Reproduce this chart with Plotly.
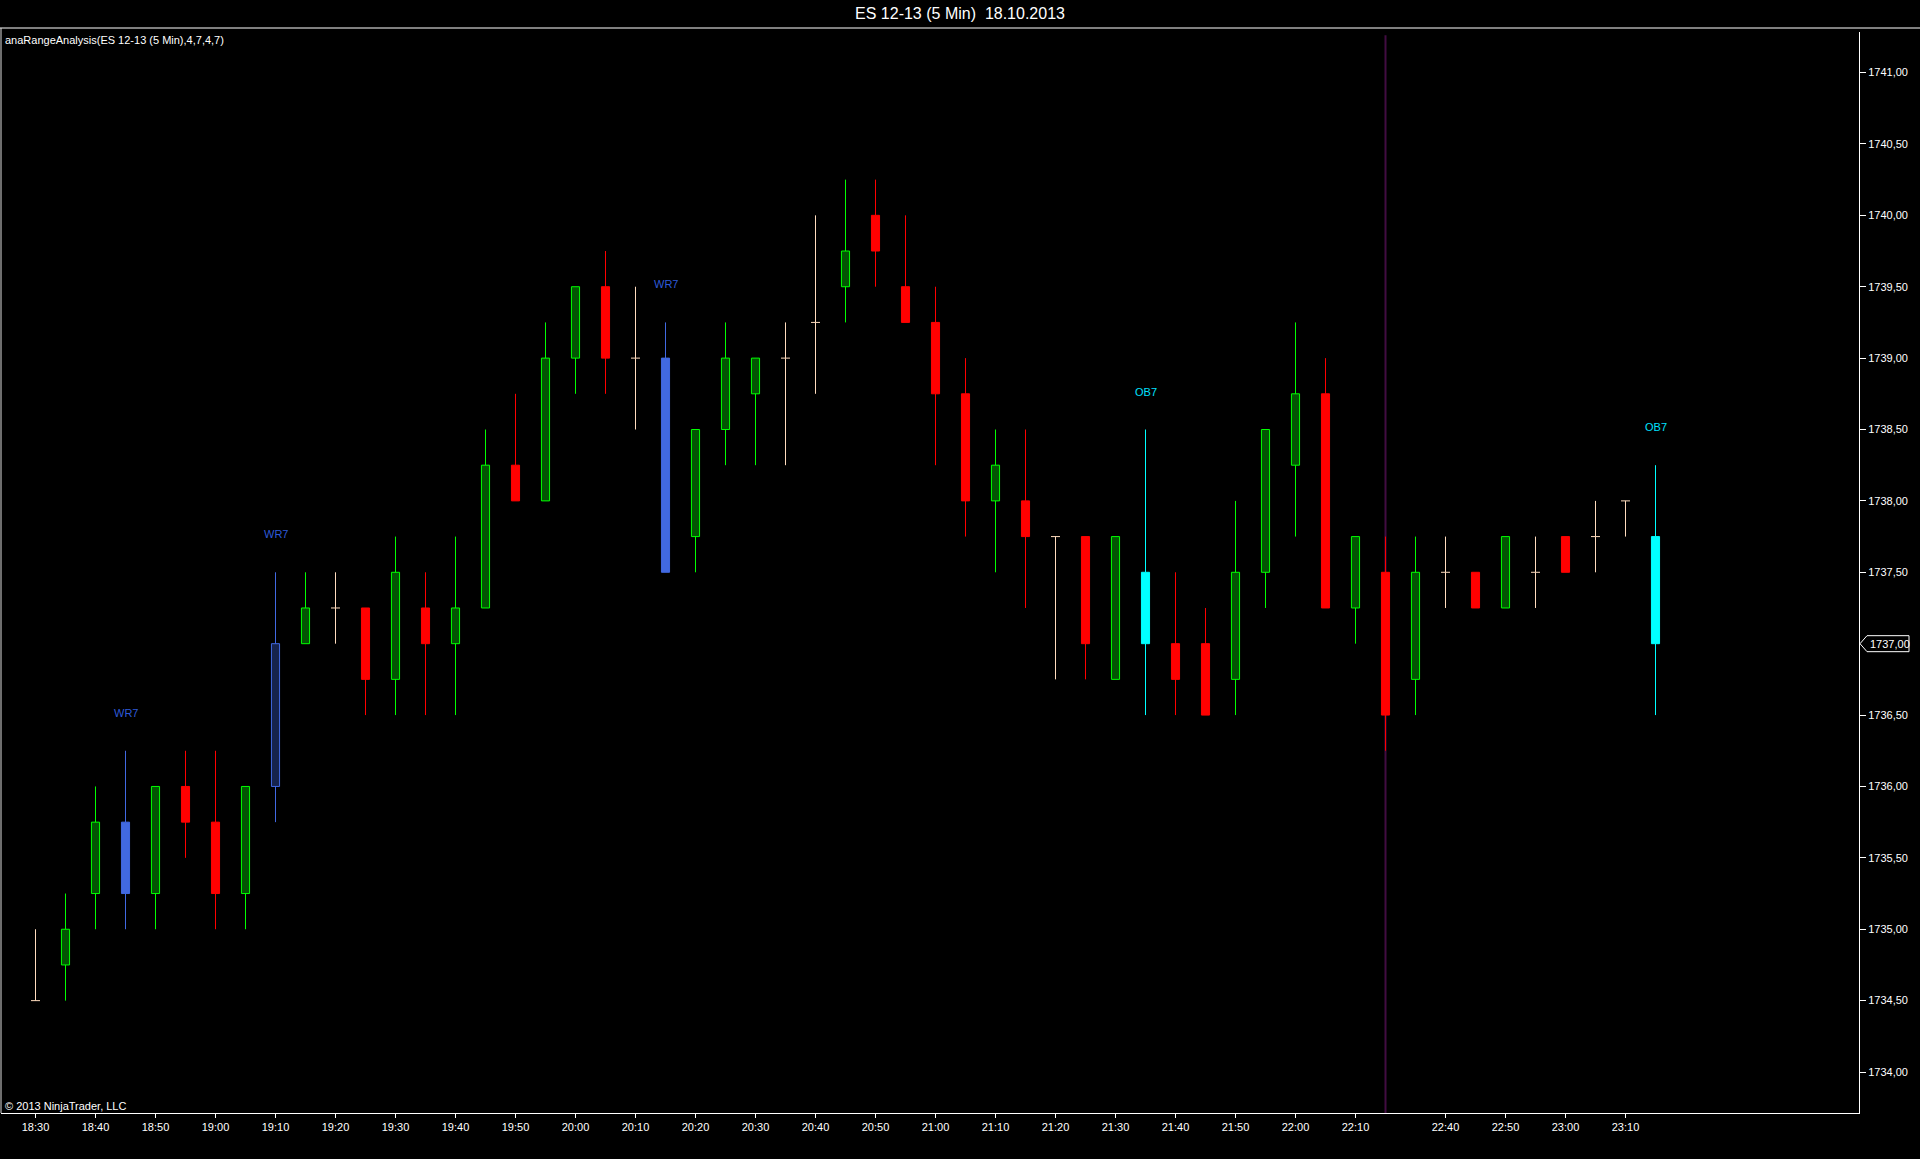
import plotly.graph_objects as go

# ---------------- data (ES 12-13, 5 min, 18.10.2013) ----------------
times = ["18:30", "18:35", "18:40", "18:45", "18:50", "18:55", "19:00", "19:05", "19:10", "19:15",
         "19:20", "19:25", "19:30", "19:35", "19:40", "19:45", "19:50", "19:55", "20:00", "20:05",
         "20:10", "20:15", "20:20", "20:25", "20:30", "20:35", "20:40", "20:45", "20:50", "20:55",
         "21:00", "21:05", "21:10", "21:15", "21:20", "21:25", "21:30", "21:35", "21:40", "21:45",
         "21:50", "21:55", "22:00", "22:05", "22:10", "22:15", "22:35", "22:40", "22:45", "22:50",
         "22:55", "23:00", "23:05", "23:10", "23:15"]

opens = [1734.50, 1734.75, 1735.25, 1735.75, 1735.25, 1736.00, 1735.75, 1735.25, 1736.00, 1737.00,
         1737.25, 1737.25, 1736.75, 1737.25, 1737.00, 1737.25, 1738.25, 1738.00, 1739.00, 1739.50,
         1739.00, 1739.00, 1737.75, 1738.50, 1738.75, 1739.00, 1739.25, 1739.50, 1740.00, 1739.50,
         1739.25, 1738.75, 1738.00, 1738.00, 1737.75, 1737.75, 1736.75, 1737.50, 1737.00, 1737.00,
         1736.75, 1737.50, 1738.25, 1738.75, 1737.25, 1737.50, 1736.75, 1737.50, 1737.50, 1737.25,
         1737.50, 1737.75, 1737.75, 1738.00, 1737.75]

highs = [1735.00, 1735.25, 1736.00, 1736.25, 1736.00, 1736.25, 1736.25, 1736.00, 1737.50, 1737.50,
         1737.50, 1737.25, 1737.75, 1737.50, 1737.75, 1738.50, 1738.75, 1739.25, 1739.50, 1739.75,
         1739.50, 1739.25, 1738.50, 1739.25, 1739.00, 1739.25, 1740.00, 1740.25, 1740.25, 1740.00,
         1739.50, 1739.00, 1738.50, 1738.50, 1737.75, 1737.75, 1737.75, 1738.50, 1737.50, 1737.25,
         1738.00, 1738.50, 1739.25, 1739.00, 1737.75, 1737.75, 1737.75, 1737.75, 1737.50, 1737.75,
         1737.75, 1737.75, 1738.00, 1738.00, 1738.25]

lows = [1734.50, 1734.50, 1735.00, 1735.00, 1735.00, 1735.50, 1735.00, 1735.00, 1735.75, 1737.00,
        1737.00, 1736.50, 1736.50, 1736.50, 1736.50, 1737.25, 1738.00, 1738.00, 1738.75, 1738.75,
        1738.50, 1737.50, 1737.50, 1738.25, 1738.25, 1738.25, 1738.75, 1739.25, 1739.50, 1739.25,
        1738.25, 1737.75, 1737.50, 1737.25, 1736.75, 1736.75, 1736.75, 1736.50, 1736.50, 1736.50,
        1736.50, 1737.25, 1737.75, 1737.25, 1737.00, 1736.25, 1736.50, 1737.25, 1737.25, 1737.25,
        1737.25, 1737.50, 1737.50, 1737.75, 1736.50]

closes = [1734.50, 1735.00, 1735.75, 1735.25, 1736.00, 1735.75, 1735.25, 1736.00, 1737.00, 1737.25,
          1737.25, 1736.75, 1737.50, 1737.00, 1737.25, 1738.25, 1738.00, 1739.00, 1739.50, 1739.00,
          1739.00, 1737.50, 1738.50, 1739.00, 1739.00, 1739.00, 1739.25, 1739.75, 1739.75, 1739.25,
          1738.75, 1738.00, 1738.25, 1737.75, 1737.75, 1737.00, 1737.75, 1737.00, 1736.75, 1736.50,
          1737.50, 1738.50, 1738.75, 1737.25, 1737.75, 1736.50, 1737.50, 1737.50, 1737.25, 1737.75,
          1737.50, 1737.50, 1737.75, 1738.00, 1737.00]

signals = ["", "", "", "WR7", "", "", "", "", "WR7", "",
           "", "", "", "", "", "", "", "", "", "",
           "", "WR7", "", "", "", "", "", "", "", "",
           "", "", "", "", "", "", "", "OB7", "", "",
           "", "", "", "", "", "", "", "", "", "",
           "", "", "", "", "OB7"]

price_ticks = [1734.0, 1734.5, 1735.0, 1735.5, 1736.0, 1736.5, 1737.0,
               1737.5, 1738.0, 1738.5, 1739.0, 1739.5, 1740.0, 1740.5, 1741.0]

title_text = "ES 12-13 (5 Min)  18.10.2013"
indicator_text = "anaRangeAnalysis(ES 12-13 (5 Min),4,7,4,7)"
copyright_text = "© 2013 NinjaTrader, LLC"

# ---------------- styling ----------------
FONT = "Liberation Sans, Arial, sans-serif"
STYLES = {
    "up":      dict(line="#00FF00", fill="#035503"),
    "down":    dict(line="#FF0000", fill="#FF0000"),
    "doji":    dict(line="#FFDCBE", fill="#FFDCBE"),
    "wr_up":   dict(line="#4169E1", fill="#16234C"),
    "wr_down": dict(line="#4169E1", fill="#4169E1"),
    "ob_up":   dict(line="#00FFFF", fill="#004C4C"),
    "ob_down": dict(line="#00FFFF", fill="#00FFFF"),
}
LABEL_COLORS = {"WR7": "#2E5AD8", "OB7": "#00E0FF"}
BODY_W = 0.27
DASH_HALF = 0.15

n = len(times)
xs = list(range(n))


def style_of(i):
    o, c, s = opens[i], closes[i], signals[i]
    if s == "WR7":
        return "wr_up" if c > o else "wr_down"
    if s == "OB7":
        return "ob_up" if c > o else "ob_down"
    if o == c:
        return "doji"
    return "up" if c > o else "down"


styles = [style_of(i) for i in xs]

fig = go.Figure()

for key, st in STYLES.items():
    idx = [i for i in xs if styles[i] == key]
    if not idx:
        continue
    # bodies
    body_idx = [i for i in idx if opens[i] != closes[i]]
    if body_idx:
        fig.add_trace(go.Bar(
            x=body_idx,
            y=[abs(closes[i] - opens[i]) for i in body_idx],
            base=[min(opens[i], closes[i]) for i in body_idx],
            width=BODY_W,
            marker=dict(color=st["fill"], line=dict(color=st["line"], width=1)),
            hoverinfo="skip", showlegend=False,
        ))
    # wicks (outside the body) and doji dashes
    wx, wy = [], []
    for i in idx:
        top = max(opens[i], closes[i])
        bot = min(opens[i], closes[i])
        if highs[i] > top:
            wx += [i, i, None]
            wy += [top, highs[i], None]
        if lows[i] < bot:
            wx += [i, i, None]
            wy += [lows[i], bot, None]
        if opens[i] == closes[i]:
            wx += [i - DASH_HALF, i + DASH_HALF, None]
            wy += [closes[i], closes[i], None]
    if wx:
        fig.add_trace(go.Scatter(
            x=wx, y=wy, mode="lines",
            line=dict(color=st["line"], width=1),
            hoverinfo="skip", showlegend=False,
        ))

# signal labels
for i in xs:
    if signals[i]:
        fig.add_annotation(
            x=i, y=highs[i], yshift=38, text=signals[i], showarrow=False,
            font=dict(family=FONT, size=11, color=LABEL_COLORS[signals[i]]),
        )


# session break line (last bar before a time gap)
def minutes(t):
    h, m = t.split(":")
    return int(h) * 60 + int(m)


break_idx = None
for i in range(1, n):
    if minutes(times[i]) - minutes(times[i - 1]) > 5:
        break_idx = i - 1
        break

# ---------------- layout geometry ----------------
W, H = 1920, 1159
ML, MR, MT, MB = 1, 61, 32, 46
plot_w = W - ML - MR
plot_h = H - MT - MB
PX_PER_BAR = 30.0
x0 = -(35.5 - ML) / PX_PER_BAR
x1 = x0 + plot_w / PX_PER_BAR
y_lo, y_hi = 1733.713, 1741.284

shapes = []
if break_idx is not None:
    shapes.append(dict(type="line", xref="x", yref="paper", x0=break_idx, x1=break_idx,
                       y0=0, y1=0.997, layer="below", line=dict(color="#420C42", width=2)))
# title separator and left frame
sep_y = 1 + 4 / plot_h
shapes.append(dict(type="line", xref="paper", yref="paper", x0=-ML / plot_w, x1=(W - ML) / plot_w,
                   y0=sep_y, y1=sep_y, line=dict(color="#FFFFFF", width=1)))
shapes.append(dict(type="line", xref="paper", yref="paper", x0=0, x1=0, y0=0, y1=sep_y,
                   line=dict(color="#DDDDDD", width=1)))
# current price marker
last_close = closes[-1]
shapes.append(dict(type="path", xref="paper", yref="y", xsizemode="pixel", ysizemode="pixel",
                   xanchor=1, yanchor=last_close,
                   path="M 1 0 L 8 8 L 50 8 L 50 -8 L 8 -8 Z",
                   fillcolor="#000000", line=dict(color="#FFFFFF", width=1), layer="above"))


def fmt_price(v):
    return f"{v:.2f}".replace(".", ",")


tick_text = ["" if v == last_close else fmt_price(v) for v in price_ticks]
x_tickvals = [i for i in xs if minutes(times[i]) % 10 == 0]
x_ticktext = [times[i] for i in x_tickvals]

fig.add_annotation(xref="paper", yref="y", x=1, y=last_close, xshift=9, xanchor="left",
                   text=fmt_price(last_close), showarrow=False,
                   font=dict(family=FONT, size=11, color="#FFFFFF"))

fig.add_annotation(xref="paper", yref="paper", x=0, y=1 - 8 / plot_h, xshift=2,
                   xanchor="left", yanchor="middle", text=indicator_text, showarrow=False,
                   font=dict(family=FONT, size=11, color="#FFFFFF"))
fig.add_annotation(xref="paper", yref="paper", x=0, y=7 / plot_h, xshift=2,
                   xanchor="left", yanchor="middle", text=copyright_text, showarrow=False,
                   font=dict(family=FONT, size=11, color="#FFFFFF"))

fig.update_layout(
    width=W, height=H,
    paper_bgcolor="#000000", plot_bgcolor="#000000",
    margin=dict(l=ML, r=MR, t=MT, b=MB, pad=0),
    barmode="overlay",
    hovermode=False,
    showlegend=False,
    title=dict(text=title_text, x=0.5, xref="container", xanchor="center",
               y=1 - 13.5 / H, yref="container", yanchor="middle",
               font=dict(family=FONT, size=16, color="#FFFFFF")),
    shapes=shapes,
    xaxis=dict(range=[x0, x1], showgrid=False, zeroline=False,
               showline=True, linecolor="#FFFFFF", linewidth=1,
               ticks="outside", ticklen=4, tickcolor="#FFFFFF", tickwidth=1,
               tickvals=x_tickvals, ticktext=x_ticktext,
               tickfont=dict(family=FONT, size=11, color="#FFFFFF")),
    yaxis=dict(range=[y_lo, y_hi], side="right", showgrid=False, zeroline=False,
               showline=True, linecolor="#FFFFFF", linewidth=1,
               ticks="outside", ticklen=6, tickcolor="#FFFFFF", tickwidth=1,
               tickvals=price_ticks, ticktext=tick_text,
               tickfont=dict(family=FONT, size=11, color="#FFFFFF")),
)

page_css = ("document.documentElement.style.margin='0';"
            "document.body.style.margin='0';"
            "document.body.style.padding='0';"
            "document.body.style.background='#000000';"
            "document.body.style.overflow='hidden';")

fig.write_html("out.html", config={"displayModeBar": False}, post_script=page_css)
